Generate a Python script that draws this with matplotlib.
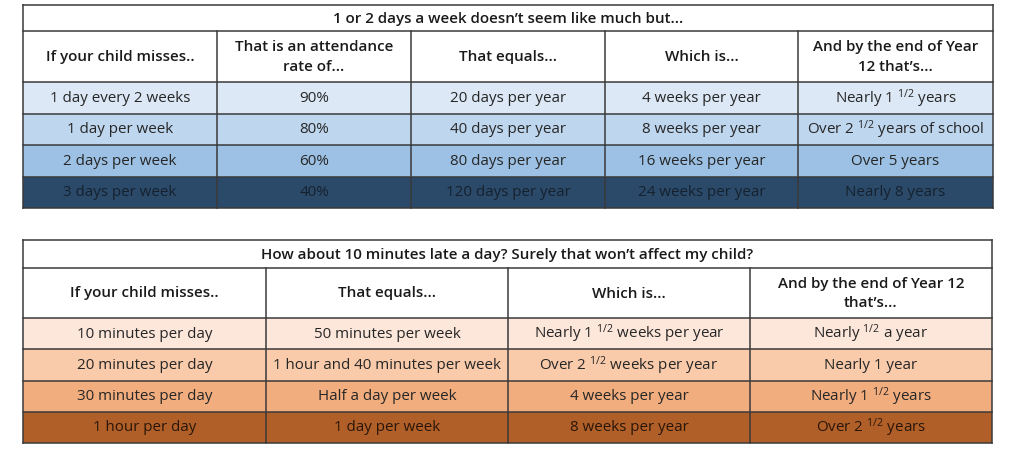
import numpy as np
import matplotlib.pyplot as plt

plt.rcParams['font.family'] = ['Open Sans', 'DejaVu Sans']
plt.rcParams['mathtext.fontset'] = 'custom'
plt.rcParams['mathtext.rm'] = 'Open Sans'
plt.rcParams['mathtext.it'] = 'Open Sans'
plt.rcParams['mathtext.bf'] = 'Open Sans'

HALF = r'$^{1/2}$'

# ---- table 1: days missed ----
absence_title = "1 or 2 days a week doesn\u2019t seem like much but..."
absence_headers = ["If your child misses..", "That is an attendance\nrate of...",
                   "That equals...", "Which is...", "And by the end of Year\n12 that\u2019s..."]
absence_missed = ["1 day every 2 weeks", "1 day per week", "2 days per week", "3 days per week"]
attendance_rate = ["90%", "80%", "60%", "40%"]
days_per_year = ["20 days per year", "40 days per year", "80 days per year", "120 days per year"]
weeks_per_year = ["4 weeks per year", "8 weeks per year", "16 weeks per year", "24 weeks per year"]
absence_by_year12 = ["Nearly 1 " + HALF + " years", "Over 2 " + HALF + " years of school",
                     "Over 5 years", "Nearly 8 years"]
absence_colors = ["#dce8f5", "#bed6ee", "#9cc1e4", "#2b4a69"]

# ---- table 2: lateness ----
late_title = "How about 10 minutes late a day? Surely that won\u2019t affect my child?"
late_headers = ["If your child misses..", "That equals...", "Which is...",
                "And by the end of Year 12\nthat\u2019s..."]
late_missed = ["10 minutes per day", "20 minutes per day", "30 minutes per day", "1 hour per day"]
late_per_week = ["50 minutes per week", "1 hour and 40 minutes per week",
                 "Half a day per week", "1 day per week"]
late_per_year = ["Nearly 1 " + HALF + " weeks per year", "Over 2 " + HALF + " weeks per year",
                 "4 weeks per year", "8 weeks per year"]
late_by_year12 = ["Nearly " + HALF + " a year", "Nearly 1 year",
                  "Nearly 1 " + HALF + " years", "Over 2 " + HALF + " years"]
late_colors = ["#fde7da", "#f9cbab", "#f2ad7e", "#b15f28"]

LINE = "#3a3a3a"
FS = 10.9


def draw_table(ax, top, col_edges, title, headers, columns, colors,
               title_h, header_h, row_h, dark_text):
    left, right = col_edges[0], col_edges[-1]
    n = len(columns[0])
    header_top = top + title_h
    body_top = header_top + header_h
    centers = body_top + row_h * (np.arange(n) + 0.5)

    # row fills
    ax.barh(centers, right - left, left=left, height=row_h, color=colors,
            edgecolor='none', zorder=1)

    # horizontal rules
    ys = [top, header_top, body_top] + list(body_top + row_h * np.arange(1, n + 1))
    for y in ys:
        ax.plot([left, right], [y, y], color=LINE, lw=1.1, zorder=3)
    # vertical rules
    bottom = ys[-1]
    ax.plot([left, left], [top, bottom], color=LINE, lw=1.1, zorder=3)
    ax.plot([right, right], [top, bottom], color=LINE, lw=1.1, zorder=3)
    for x in col_edges[1:-1]:
        ax.plot([x, x], [header_top, bottom], color=LINE, lw=1.1, zorder=3)

    ax.text((left + right) / 2, top + title_h / 2 + 0.5, title, ha='center', va='center',
            fontsize=FS, fontweight='semibold', color='#1a1a1a', zorder=4)

    mids = [(a + b) / 2 for a, b in zip(col_edges[:-1], col_edges[1:])]
    for x, h in zip(mids, headers):
        ax.text(x, header_top + header_h / 2 + 0.5, h, ha='center', va='center',
                fontsize=FS, fontweight='semibold', color='#1a1a1a',
                linespacing=1.5, zorder=4)

    for c, (x, col) in enumerate(zip(mids, columns)):
        for r, (y, val) in enumerate(zip(centers, col)):
            tc = dark_text if r == n - 1 else '#262626'
            ax.text(x, y + 0.5, val, ha='center', va='center', fontsize=FS,
                    color=tc, zorder=4)


fig = plt.figure(figsize=(10.24, 4.5), dpi=100)
ax = fig.add_axes([0, 0, 1, 1])
ax.set_xlim(0, 1024)
ax.set_ylim(450, 0)
ax.axis('off')

draw_table(ax, 5, [23, 217, 411, 605, 798, 993], absence_title, absence_headers,
           [absence_missed, attendance_rate, days_per_year, weeks_per_year, absence_by_year12],
           absence_colors, 26, 51, 31.5, '#15212e')

draw_table(ax, 240, [23, 266, 508, 750, 992], late_title, late_headers,
           [late_missed, late_per_week, late_per_year, late_by_year12],
           late_colors, 28, 50, 31.25, '#2a1608')

fig.savefig("out.png", dpi=100, facecolor='white')
